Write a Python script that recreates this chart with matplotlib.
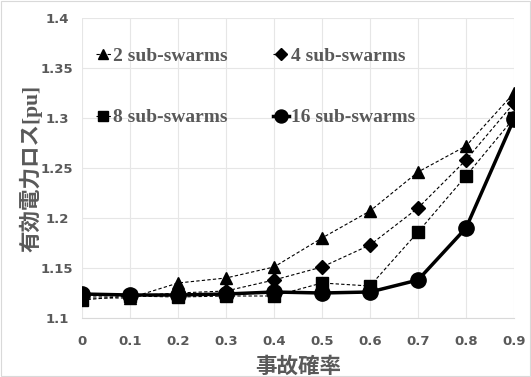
import matplotlib
matplotlib.use("Agg")
import matplotlib.pyplot as plt

x = [0, 0.1, 0.2, 0.3, 0.4, 0.5, 0.6, 0.7, 0.8, 0.9]
s2 = [1.120, 1.120, 1.135, 1.140, 1.151, 1.180, 1.207, 1.246, 1.272, 1.325]
s4 = [1.122, 1.122, 1.125, 1.127, 1.138, 1.151, 1.173, 1.210, 1.258, 1.315]
s8 = [1.118, 1.122, 1.121, 1.122, 1.122, 1.135, 1.132, 1.186, 1.242, 1.300]
s16 = [1.124, 1.123, 1.123, 1.124, 1.126, 1.125, 1.126, 1.138, 1.190, 1.299]
labels = ["2 sub-swarms", "4 sub-swarms", "8 sub-swarms", "16 sub-swarms"]
xticks = [0, 0.1, 0.2, 0.3, 0.4, 0.5, 0.6, 0.7, 0.8, 0.9]
yticks = [1.1, 1.15, 1.2, 1.25, 1.3, 1.35, 1.4]

gray = "#595959"
fig = plt.figure(figsize=(5.31, 3.77), dpi=100)
ax = fig.add_axes([82/531, 1-318/377, (514-82)/531, 300/377])

h2, = ax.plot(x, s2, ls=(0, (3, 2)), lw=0.8, color="black", marker="^", ms=9, label=labels[0])
h4, = ax.plot(x, s4, ls=(0, (3, 2)), lw=0.8, color="black", marker="D", ms=7, label=labels[1])
h8, = ax.plot(x, s8, ls=(0, (3, 2)), lw=0.8, color="black", marker="s", ms=9, label=labels[2])
h16, = ax.plot(x, s16, ls="-", lw=2.5, color="black", marker="o", ms=11, label=labels[3], zorder=3)

ax.set_xlim(0, 0.9)
ax.set_ylim(1.1, 1.4)
ax.set_xticks(xticks)
ax.set_xticklabels([f"{v:g}" for v in xticks])
ax.set_yticks(yticks)
ax.set_yticklabels([f"{v:g}" for v in yticks])
ax.grid(True, color="#e6e6e6", lw=0.8)
ax.set_axisbelow(True)
for s in ["top", "right", "left"]:
    ax.spines[s].set_visible(False)
ax.spines["bottom"].set_color("#d9d9d9")
ax.tick_params(length=0, colors=gray, labelsize=9.5)
ax.tick_params(axis="x", pad=12)
ax.tick_params(axis="y", pad=18)
for t in ax.get_xticklabels() + ax.get_yticklabels():
    t.set_fontweight("bold")
for t in ax.get_yticklabels():
    t.set_ha("center")

ax.set_xlabel("事故確率", family=["Noto Sans CJK JP", "DejaVu Sans"], fontsize=15.5,
              color=gray, fontweight="bold", labelpad=6)
ax.set_ylabel("有効電力ロス[pu]", family=["Liberation Serif", "Noto Sans CJK JP"], fontsize=15.5,
              color=gray, fontweight="bold", labelpad=-1)

leg = ax.legend([h2, h8, h4, h16], [labels[0], labels[2], labels[1], labels[3]],
                loc="upper left", bbox_to_anchor=(-0.009, 0.96), ncol=2, frameon=False,
                prop={"family": "Liberation Serif", "weight": "bold", "size": 14},
                handlelength=0.8, handletextpad=0.1, labelspacing=2.25, columnspacing=2.35,
                markerscale=0.85)
for t in leg.get_texts():
    t.set_color(gray)

fig.patches.append(plt.Rectangle((0.002, 0.002), 0.996, 0.996, transform=fig.transFigure,
                                 fill=False, edgecolor="#d9d9d9", lw=0.8))
fig.savefig("out.png", dpi=100)
